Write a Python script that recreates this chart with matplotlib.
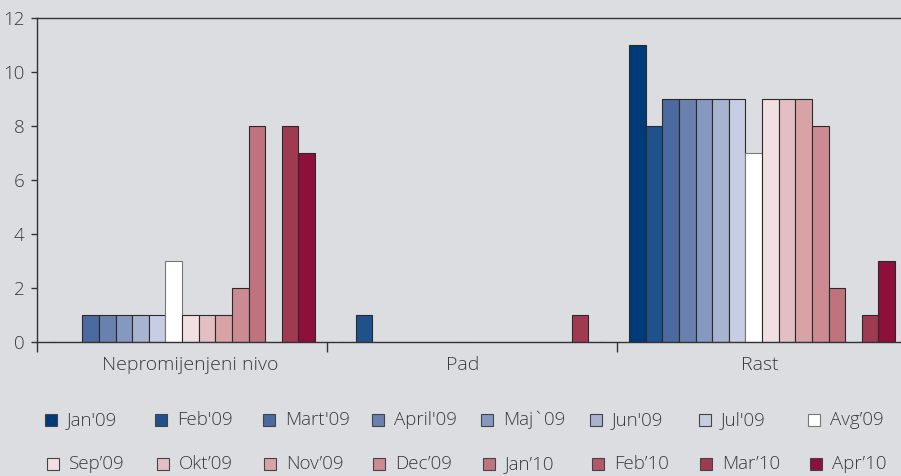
import numpy as np
import matplotlib.pyplot as plt
import matplotlib.transforms as mtransforms
from matplotlib.patches import Rectangle

plt.rcParams["font.family"] = ["Open Sans", "DejaVu Sans"]
plt.rcParams["font.weight"] = "light"

categories = ["Nepromijenjeni nivo", "Pad", "Rast"]
months = ["Jan'09", "Feb'09", "Mart'09", "April'09", "Maj`09", "Jun'09", "Jul'09", "Avg’09",
          "Sep’09", "Okt’09", "Nov’09", "Dec’09", "Jan’10", "Feb’10", "Mar’10", "Apr’10"]
values = [
    [0, 0, 11],
    [0, 1, 8],
    [1, 0, 9],
    [1, 0, 9],
    [1, 0, 9],
    [1, 0, 9],
    [1, 0, 9],
    [3, 0, 7],
    [1, 0, 9],
    [1, 0, 9],
    [1, 0, 9],
    [2, 0, 8],
    [8, 0, 2],
    [0, 0, 0],
    [8, 1, 1],
    [7, 0, 3],
]
colors = ["#003a78", "#1f518c", "#4a6aa0", "#6a80ad", "#8598c0", "#a8b3d0", "#c7cee3", "#ffffff",
          "#f2dfe1", "#e3bfc3", "#d7a3a7", "#cc8a92", "#bf737d", "#b25868", "#a03a50", "#8d0f3a"]

BG = "#dcdde0"
TXT = "#3a3a3a"

fig = plt.figure(figsize=(9.01, 4.76), dpi=100, facecolor=BG)
ax = fig.add_axes([37 / 901, (476 - 342) / 476, 870 / 901, 324 / 476], facecolor=BG)

n = len(months)
group = 266 / 290
w = group / n
x = np.arange(len(categories))
for i, (m, v, c) in enumerate(zip(months, values, colors)):
    ec = "#777777" if c == "#ffffff" else "#2a2a2a"
    ax.bar(x - group / 2 + w * (i + 0.5), v, width=w, color=c, edgecolor=ec, linewidth=0.8)

ax.set_xlim(-0.5, 2.5)
ax.set_ylim(0, 12)
ax.set_yticks(range(0, 13, 2))
ax.set_xticks(x)
ax.set_xticklabels(categories)
ax.set_xticks([-0.5, 0.5, 1.5, 2.5], minor=True)
ax.tick_params(axis="x", which="major", length=0, pad=10, labelsize=14, labelcolor=TXT)
ax.tick_params(axis="x", which="minor", length=7, width=1, color="#333333")
ax.tick_params(axis="y", length=4, width=1, color="#333333", pad=5, labelsize=13.5, labelcolor=TXT)
for s in ["left", "bottom", "top"]:
    ax.spines[s].set_color("#333333")
    ax.spines[s].set_linewidth(1)
ax.spines["right"].set_visible(False)

# category labels in the original are not exactly centred
for lbl, dx in zip(ax.get_xticklabels(), [8, -9, -2]):
    lbl.set_transform(lbl.get_transform() +
                      mtransforms.ScaledTranslation(dx / 100, 0, fig.dpi_scale_trans))

# legend laid out in two rows of eight
row_y = [420, 464]
col_x = [[45, 155, 263, 372, 481, 590, 699, 808],
         [47, 157, 264, 373, 483, 592, 700, 810]]
sq = 12
for i, (m, c) in enumerate(zip(months, colors)):
    r, k = divmod(i, 8)
    x0 = col_x[r][k]
    y0 = row_y[r]
    ec = "#777777" if c == "#ffffff" else "#444444"
    fig.patches.append(Rectangle((x0 / 901, 1 - (y0 + sq / 2) / 476), sq / 901, sq / 476,
                                 transform=fig.transFigure, facecolor=c, edgecolor=ec,
                                 linewidth=0.8))
    fig.text((x0 + sq + 10) / 901, 1 - y0 / 476, m, fontsize=13.5, color=TXT,
             va="center", ha="left")

fig.savefig("out.png", dpi=100, facecolor=BG)
